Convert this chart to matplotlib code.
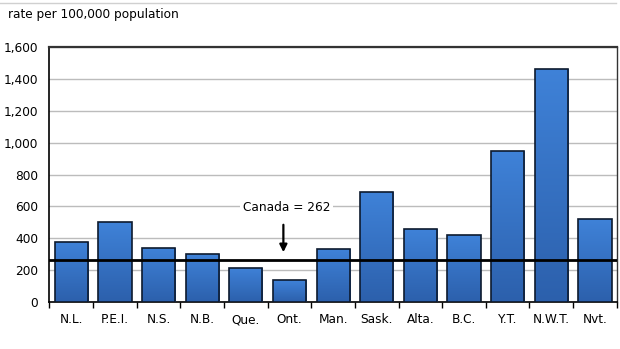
import numpy as np
import matplotlib
matplotlib.use("Agg")
import matplotlib.pyplot as plt
from matplotlib.colors import LinearSegmentedColormap
from matplotlib.lines import Line2D

# --- DATA ---
provinces = ["N.L.", "P.E.I.", "N.S.", "N.B.", "Que.", "Ont.", "Man.",
             "Sask.", "Alta.", "B.C.", "Y.T.", "N.W.T.", "Nvt."]
rates = [374, 500, 337, 301, 215, 138, 330, 688, 456, 420, 949, 1465, 518]
canada_rate = 262
y_ticks = [0, 200, 400, 600, 800, 1000, 1200, 1400, 1600]

plt.rcParams['font.family'] = ['Verdana', 'DejaVu Sans']
fs = 8.7

fig = plt.figure(figsize=(6.2, 3.49), dpi=100)
ax = fig.add_axes([0.0798, 0.1347, 0.915, 0.7306])

x = np.arange(len(provinces))
bars = ax.bar(x, rates, width=0.76, color="#3873c8", edgecolor="#0d1a2e",
              linewidth=1.2, zorder=3)

# vertical gradient inside each bar
cmap = LinearSegmentedColormap.from_list("bar", ["#2c60ac", "#3f82d8"])
grad = np.linspace(0, 1, 256).reshape(-1, 1)
for b in bars:
    bx, by = b.get_x(), b.get_y()
    w, h = b.get_width(), b.get_height()
    im = ax.imshow(grad, cmap=cmap, origin="lower", aspect="auto",
                   extent=[bx, bx + w, by, by + h], zorder=3)
    im.set_clip_path(b)
    b.set_facecolor("none")
    b.set_zorder(4)

ax.set_xlim(-0.5, len(provinces) - 0.5)
ax.set_ylim(0, 1600)
ax.set_yticks(y_ticks)
ax.set_yticklabels([f"{v:,}" for v in y_ticks], fontsize=fs)
ax.tick_params(axis="y", length=0, pad=8)
ax.set_xticks(x)
ax.set_xticklabels(provinces, fontsize=fs)
ax.tick_params(axis="x", which="major", length=0, pad=8)
ax.set_xticks(np.arange(-0.5, len(provinces) - 0.4, 1), minor=True)
ax.tick_params(axis="x", which="minor", length=4, width=1, direction="out")

ax.yaxis.grid(True, color="#bcbcbc", linewidth=1, zorder=0)
ax.set_axisbelow(True)

for side in ["left", "bottom"]:
    ax.spines[side].set_color("black")
    ax.spines[side].set_linewidth(1.2)
ax.spines["top"].set_color("#333333")
ax.spines["top"].set_linewidth(1.6)
ax.spines["right"].set_color("#333333")
ax.spines["right"].set_linewidth(1.0)

# national average line
ax.axhline(canada_rate, color="black", linewidth=2, zorder=5)
ax.annotate("", xy=(4.86, canada_rate + 33), xytext=(4.86, 502),
            arrowprops=dict(arrowstyle="-|>", color="black", lw=1.6,
                            mutation_scale=11), zorder=6)
ax.text(4.94, 590, f"Canada = {canada_rate}", ha="center", va="center",
        fontsize=fs, zorder=6,
        bbox=dict(facecolor="white", edgecolor="none", pad=2))

fig.text(0.013, 0.958, "rate per 100,000 population", fontsize=fs,
         ha="left", va="center")
fig.add_artist(Line2D([0, 0.993], [0.991, 0.991], color="#d0d0d0",
                      linewidth=1, transform=fig.transFigure))

fig.savefig("out.png", dpi=100)
